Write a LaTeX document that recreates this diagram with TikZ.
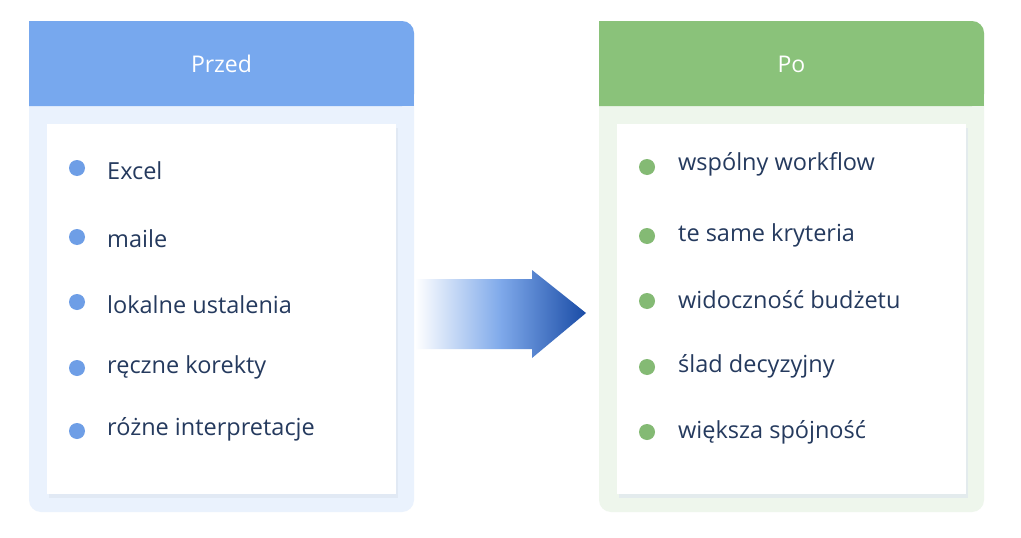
\documentclass[tikz,border=0pt]{standalone}
\usepackage{fontspec}
\setmainfont{Open Sans}
\definecolor{bluehead}{HTML}{77A8EE}
\definecolor{bluebody}{HTML}{EAF2FD}
\definecolor{bluedot}{HTML}{6E9EE6}
\definecolor{greenhead}{HTML}{8AC27A}
\definecolor{greenbody}{HTML}{EEF6EC}
\definecolor{greendot}{HTML}{84BA74}
\definecolor{txt}{HTML}{253A5E}
\definecolor{arrowdark}{HTML}{1A4CA6}
\definecolor{arrowmid}{HTML}{7FA9EA}
\definecolor{shadowc}{HTML}{DCE4EE}
\begin{document}
\begin{tikzpicture}[x=1pt,y=-1pt,
  body/.style={rounded corners=12pt},
  card/.style={fill=white},
  headtxt/.style={text=white,font=\fontsize{23}{27}\selectfont},
  item/.style={anchor=west,text=txt,font=\fontsize{23.5}{28}\selectfont,inner sep=0pt},
  bdot/.style={circle,fill=bluedot,minimum size=16pt,inner sep=0pt},
  gdot/.style={circle,fill=greendot,minimum size=16pt,inner sep=0pt}]
\useasboundingbox[fill=white] (0,0) rectangle (1021,538);
% left panel
\fill[bluebody,body] (29,21) rectangle (414,512);
\fill[bluehead,rounded corners=12pt] (29,21) -- (414,21) -- (414,106) [sharp corners] -- (29,106) -- cycle;
\fill[bluehead] (29,60) rectangle (414,106);
\node[headtxt] (hl) at (221.5,64) {Przed};
\fill[shadowc,opacity=0.6] (49,128) rectangle (398,498);
\fill[card] (47,124) rectangle (396,494);
% right panel
\fill[greenbody,body] (599,21) rectangle (984,512);
\fill[greenhead,rounded corners=12pt] (599,21) -- (984,21) -- (984,106) [sharp corners] -- (599,106) -- cycle;
\fill[greenhead] (599,60) rectangle (984,106);
\node[headtxt] (hr) at (791.5,64) {Po};
\fill[shadowc,opacity=0.6] (619,128) rectangle (968,498);
\fill[card] (617,124) rectangle (966,494);
% left items
\node[bdot] (d1) at (77,168) {};
\node[item] (t1) at (107,171) {Excel};
\node[bdot] (d2) at (77,237) {};
\node[item] (t2) at (107,239) {maile};
\node[bdot] (d3) at (77,302) {};
\node[item] (t3) at (107,305) {lokalne ustalenia};
\node[bdot] (d4) at (77,368) {};
\node[item] (t4) at (107,367) {ręczne korekty};
\node[bdot] (d5) at (77,431) {};
\node[item] (t5) at (107,429) {różne interpretacje};
% right items
\node[gdot] (e1) at (647,167) {};
\node[item] (u1) at (678,164) {wspólny workflow};
\node[gdot] (e2) at (647,236) {};
\node[item] (u2) at (678,235) {te same kryteria};
\node[gdot] (e3) at (647,301) {};
\node[item] (u3) at (678,300) {widoczność budżetu};
\node[gdot] (e4) at (647,367) {};
\node[item] (u4) at (678,366) {ślad decyzyjny};
\node[gdot] (e5) at (647,432) {};
\node[item] (u5) at (678,432) {większa spójność};
% arrow
\coordinate (tip) at (586,313);
\shade[left color=white,right color=arrowdark,middle color=arrowmid]
  (415,279) -- (532,279) -- (532,270) -- (tip) -- (532,358) -- (532,349) -- (415,349) -- cycle;
\end{tikzpicture}
\end{document}
